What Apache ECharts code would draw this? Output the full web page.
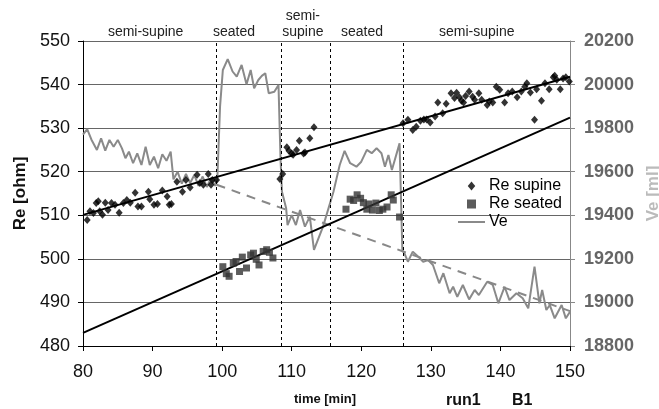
<!DOCTYPE html>
<html><head><meta charset="utf-8">
<script src="https://cdn.jsdelivr.net/npm/echarts@6/dist/echarts.min.js"></script>
<style>html,body{margin:0;padding:0;background:#fff}#c{width:659px;height:409px}</style>
</head><body><div id="c"></div>
<script>
// ---- data ----
const supineTime = [80.6,81,81.5,81.9,82.2,82.4,82.8,83.2,83.6,84.1,84.6,85.2,85.8,86.3,86.8,87.5,87.9,88.4,89.4,89.6,90.2,90.7,91.4,92.1,92.4,92.7,93.5,94.3,94.8,95.4,96.4,96.8,97.3,98,98.4,98.6,99.2,
  108.3,108.7,109.3,109.6,110,110.2,110.7,111.1,111.7,111.9,112.6,113.2,
  126,126.7,127.4,127.9,128.5,129,129.4,129.9,130.6,131,131.7,132.2,132.9,133.4,133.7,134.1,134.4,134.7,135,135.5,136,136.3,136.9,137.3,138.1,138.4,138.9,139.4,139.9,140.6,141.1,141.7,142.4,143,143.5,143.8,144.3,144.9,145.2,145.9,146.4,147,147.6,147.8,148.1,148.6,149,149.4,149.9];
const supineRe = [508.9,510.9,510.5,512.8,513.2,510.9,510.1,512.9,511.2,512.8,512.4,510.6,512.8,513.5,512.9,515.2,512.0,512.0,515.4,513.7,512.4,512.6,515.7,514.3,512.4,512.6,517.7,515.4,518.1,516.4,519.3,517.4,517.0,519.5,517.0,518.1,518.1,
  518.3,519.5,525.6,524.8,524.2,523.9,525.0,527.1,524.2,524.4,527.7,530.2,
  531.1,531.9,529.6,530.3,531.7,532.0,532.0,531.3,532.7,535.9,533.4,535.6,538.0,536.9,538.1,537.1,536.3,535.9,537.4,538.4,537.2,536.5,538.0,536.5,535.3,536.1,535.9,539.5,538.8,535.9,538.0,538.4,537.1,538.4,539.5,540.3,538.2,531.9,538.9,536.3,540.3,538.9,541.7,542.0,541.1,538.9,541.4,541.7,540.7];
const seatedTime = [100.1,100.6,101,101.6,102,102.5,102.9,103.5,104.1,104.5,104.9,105.3,105.9,106.4,106.8,107.3,
  117.8,118.4,118.9,119.4,119.9,120.3,120.8,121.1,121.6,122.1,122.6,123.1,123.7,124.3,124.6,125.5];
const seatedRe = [498.2,496.6,496.0,499.0,499.4,497.1,500.4,497.9,500.9,501.3,499.9,498.6,501.7,502.1,501.5,500.2,
  511.4,513.7,513.4,514.7,513.9,512.9,511.4,512.6,511.2,512.8,511.1,511.4,511.9,514.7,513.5,509.6];
const veTime = [80,80.6,81.2,82,82.6,83.2,83.8,84.4,85,85.6,86.1,86.6,87.2,87.8,88.4,89,89.6,90.2,90.8,91.4,92,92.6,93,93.6,94.2,94.8,95.4,96,96.6,97.2,97.8,98.4,99,99.3,99.7,100.1,100.8,101.5,102.1,102.8,103.5,104.1,104.6,105.2,105.7,106.2,106.7,107.5,108.1,108.4,108.6,109.2,109.4,110,110.6,111.2,111.9,112.6,113.2,114.5,116,116.9,117.6,118.4,119.3,120,120.8,121.5,122.2,122.9,123.4,123.9,124.4,125.5,125.9,126.2,126.7,127.4,128.2,128.9,129.6,130.3,131.2,131.8,132.7,133.2,133.8,134.6,135.5,136.3,136.9,138.1,138.9,139.7,140.6,141.3,142.3,143.2,144,144.9,145.6,146,146.6,147.1,147.8,148.8,149.4,150];
const veValues = [19770,19795,19748,19700,19753,19697,19746,19715,19746,19707,19662,19692,19639,19684,19631,19715,19631,19669,19616,19680,19650,19692,19565,19600,19545,19590,19548,19585,19535,19578,19530,19570,19535,19560,19900,20067,20117,20060,20036,20090,20001,20067,19983,20021,20040,20052,19960,19967,19998,19650,19508,19432,19355,19401,19355,19424,19348,19394,19241,19348,19508,19631,19696,19639,19623,19646,19700,19685,19708,19685,19623,19677,19608,19730,19241,19225,19187,19233,19210,19187,19195,19172,19088,19134,19042,19072,19026,19080,19014,19057,19034,19095,19080,18996,19072,19011,19042,19019,18973,19164,18996,19057,18965,18988,18927,18988,18927,18957];
const supineTrendT = [80,150], supineTrendRe = [510.1,541.8];
const seatedTrendT = [80,150], seatedTrendRe = [483.0,532.4];
const veTrendT = [99.2,150], veTrendV = [19540,18960];
const phaseBounds = [99.2,108.5,115.5,126];
const phaseLabels = ['semi-supine','seated','semi-\nsupine','seated','semi-supine'];
const phaseCenters = [89,101.7,111.6,120.1,136.6];
const reTicks = {min:480,max:550,step:10};
const veTicks = {min:18800,max:20200,step:200};
const timeTicks = {min:80,max:150,step:10};

const zip = (a,b)=>a.map((v,i)=>[v,b[i]]);
const FONT = '"Liberation Sans", Arial, sans-serif';
const chart = echarts.init(document.getElementById('c'));
const option = {
  animation:false,
  backgroundColor:'#fff',
  textStyle:{fontFamily:FONT},
  grid:{left:83,right:89,top:41,bottom:63,outerBoundsMode:'none',containLabel:false},
  legend:{
    orient:'vertical', left:452, top:173, itemGap:2, itemWidth:27, itemHeight:9,
    symbolKeepAspect:true,
    textStyle:{fontSize:16,color:'#000',fontFamily:FONT,padding:[0,0,0,-1]},
    data:[
      {name:'Re supine',icon:'path://M5,0 L10,6 L5,12 L0,6 Z'},
      {name:'Re seated',icon:'path://M0,0 L10,0 L10,10 L0,10 Z'},
      {name:'Ve',itemStyle:{opacity:0}}
    ]
  },
  xAxis:{type:'value',min:timeTicks.min,max:timeTicks.max,interval:timeTicks.step,
    axisLine:{show:true,lineStyle:{color:'#000',width:1}},
    axisTick:{show:true,length:5,lineStyle:{color:'#000'}},
    axisLabel:{fontSize:18,color:'#111',margin:17,fontFamily:FONT},
    splitLine:{show:false}},
  yAxis:[
    {type:'value',min:reTicks.min,max:reTicks.max,interval:reTicks.step,
     axisLine:{show:true,lineStyle:{color:'#000',width:1}},
     axisTick:{show:true,length:5,lineStyle:{color:'#000'}},
     axisLabel:{fontSize:18,color:'#111',margin:13,fontFamily:FONT},
     splitLine:{show:true,lineStyle:{color:'#666',width:1}},
     name:'Re [ohm]',nameLocation:'middle',nameGap:52,
     nameTextStyle:{fontSize:17,fontWeight:'bold',color:'#111',fontFamily:FONT}},
    {type:'value',position:'right',min:veTicks.min,max:veTicks.max,interval:veTicks.step,
     axisLine:{show:true,lineStyle:{color:'#888',width:1}},
     axisTick:{show:true,length:5,lineStyle:{color:'#888'}},
     axisLabel:{fontSize:18,color:'#666',fontWeight:'bold',margin:14,fontFamily:FONT,
       formatter:v=>String(v)},
     splitLine:{show:false},
     name:'Ve [ml]',nameLocation:'middle',nameGap:74,nameRotate:90,
     nameTextStyle:{fontSize:17,fontWeight:'bold',color:'#bbb',fontFamily:FONT}}
  ],
  series:[
    {name:'Ve',type:'line',yAxisIndex:1,data:zip(veTime,veValues),symbol:'none',
     lineStyle:{color:'#8a8a8a',width:2},itemStyle:{color:'#8a8a8a'},z:2,
     markLine:{silent:true,symbol:'none',label:{show:false},
       lineStyle:{color:'#000',type:[3,3],width:1},
       data:phaseBounds.map(t=>({xAxis:t}))}},
    {name:'Ve trend',type:'line',yAxisIndex:1,data:zip(veTrendT,veTrendV),symbol:'none',
     lineStyle:{color:'#888',width:2,type:[9,7]},z:3},
    {name:'Re supine',type:'scatter',data:zip(supineTime,supineRe),symbol:'diamond',symbolSize:[7,8],
     itemStyle:{color:'#000'},z:5},
    {name:'Re seated',type:'scatter',data:zip(seatedTime,seatedRe),symbol:'rect',symbolSize:7,
     itemStyle:{color:'#333'},z:5},
    {name:'supine trend',type:'line',data:zip(supineTrendT,supineTrendRe),symbol:'none',
     lineStyle:{color:'#000',width:2},z:4},
    {name:'seated trend',type:'line',data:zip(seatedTrendT,seatedTrendRe),symbol:'none',
     lineStyle:{color:'#000',width:2},z:4}
  ]
};
chart.setOption(option);
const gfx = phaseLabels.map((s,i)=>({
  type:'text',
  x: chart.convertToPixel({xAxisIndex:0}, phaseCenters[i]),
  y: 40,
  style:{text:s,font:'14px '+FONT,fill:'#222',align:'center',verticalAlign:'bottom',lineHeight:16}
}));
gfx.push({type:'text',x:325,y:399,style:{text:'time [min]',font:'bold 13px '+FONT,fill:'#111',align:'center',verticalAlign:'middle'}});
gfx.push({type:'text',x:446,y:401,style:{text:'run1',font:'bold 16px '+FONT,fill:'#111',align:'left',verticalAlign:'middle'}});
gfx.push({type:'text',x:512,y:401,style:{text:'B1',font:'bold 16px '+FONT,fill:'#111',align:'left',verticalAlign:'middle'}});
chart.setOption({graphic:gfx});
</script>
</body></html>
